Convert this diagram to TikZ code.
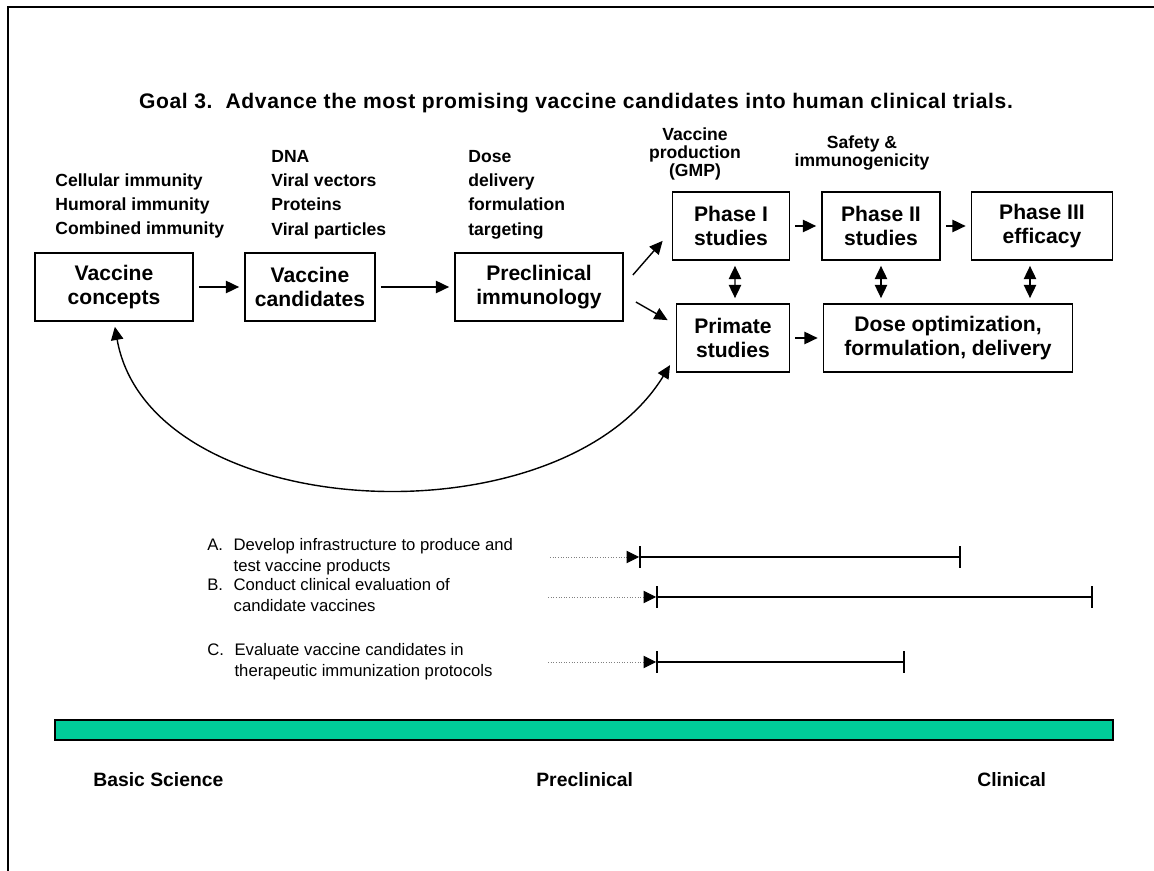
\documentclass[tikz,border=0pt]{standalone}
\usepackage{fontspec}
\setmainfont{Liberation Sans}
\newfontfamily\widesans[LetterSpace=3]{Liberation Sans}
\usepackage{tikz}
\usetikzlibrary{arrows.meta,positioning}
\definecolor{trackgreen}{HTML}{00CC99}

\begin{document}
\begin{tikzpicture}[x=0.02cm,y=-0.02cm,>={Triangle[length=7.5pt,width=7pt]},
  stage/.style={draw,line width=1pt,align=center,inner sep=0pt,minimum height=1.36cm,font=\fontsize{12}{13.6}\selectfont\bfseries},
  note/.style={align=left,anchor=north west,inner sep=0pt,font=\fontsize{10}{13.8}\selectfont\bfseries},
  head/.style={align=center,anchor=north,inner sep=0pt,font=\fontsize{10}{10.3}\selectfont\bfseries},
  link/.style={->,line width=0.8pt,shorten <=0.1cm,shorten >=0.1cm},
  both/.style={<->,line width=0.8pt,shorten <=0.1cm,shorten >=0.1cm},
  lead/.style={-{Triangle[length=7pt,width=7pt,black]},gray,densely dotted,line width=0.5pt},
  span/.style={{Bar[width=12pt]}-{Bar[width=12pt]},line width=1.1pt},
  aim/.style={anchor=west,inner sep=0pt,font=\fontsize{9.5}{11.5}\selectfont},
  phase/.style={anchor=west,inner sep=0pt,font=\fontsize{11}{13}\selectfont\bfseries}]

  \useasboundingbox (0,0) rectangle (1154,871);
  \draw[line width=1.1pt] (1154,7) -- (8,7) -- (8,871);

  \node[font=\widesans\fontsize{12}{13}\selectfont\bfseries] at (576,103) (title) {Goal 3.\ \ Advance the most promising vaccine candidates into human clinical trials.};

  \node[note] at (55,173) (immunity) {Cellular immunity\\Humoral immunity\\Combined immunity};
  \node[note] at (271,150) (platforms) {DNA\\Viral vectors\\Proteins\\Viral particles};
  \node[note] at (468,150) (methods) {Dose\\delivery\\formulation\\targeting};
  \node[head] at (695,127) (production) {Vaccine\\production\\(GMP)};
  \node[head] at (862,135) (safety) {Safety \&\\immunogenicity};

  \node[stage,minimum width=3.16cm] at (114,287) (concepts) {Vaccine\\concepts};
  \node[stage,minimum width=2.6cm] at (310,287) (candidates) {Vaccine\\candidates};
  \node[stage,minimum width=3.36cm] at (539,287) (preclin) {Preclinical\\immunology};
  \node[stage,minimum width=2.34cm] at (731,226) (ph1) {Phase I\\studies};
  \node[stage,minimum width=2.36cm] at (881,226) (ph2) {Phase II\\studies};
  \node[stage,minimum width=2.82cm] at (1042,226) (ph3) {Phase III\\efficacy};
  \node[stage,minimum width=2.26cm] at (733,338) (prim) {Primate\\studies};
  \node[stage,minimum width=4.98cm] at (948,338) (dose) {Dose optimization,\\formulation, delivery};

  \draw[link] (concepts) -- (candidates);
  \draw[link] (candidates) -- (preclin);
  \draw[->,line width=0.8pt] ([shift={(9,-12)}]preclin.east) -- ([shift={(-9,-20)}]ph1.south west);
  \draw[->,line width=0.8pt] ([shift={(12,15)}]preclin.east) -- ([shift={(-8,17)}]prim.north west);
  \draw[link] (ph1) -- (ph2);
  \draw[link] (ph2) -- (ph3);
  \draw[link] (prim) -- (dose);
  \draw[both] ([xshift=0.08cm]ph1.south) -- ([xshift=0.04cm]prim.north);
  \draw[both] (ph2.south) -- (ph2.south |- dose.north);
  \draw[both] ([xshift=-0.24cm]ph3.south) -- ([xshift=-0.24cm]ph3.south |- dose.north);
  \draw[both] (concepts.south) .. controls (150,525) and (560,545) .. ([shift={(-3,-12)}]prim.south west);

  \node[aim] at (207,557) (aimA) {\begin{tabular}{@{}l@{\hspace{6pt}}l@{}}A. & Develop infrastructure to produce and\\ & test vaccine products\end{tabular}};
  \node[aim] at (207,597) (aimB) {\begin{tabular}{@{}l@{\hspace{6pt}}l@{}}B. & Conduct clinical evaluation of\\ & candidate vaccines\end{tabular}};
  \node[aim] at (207,662) (aimC) {\begin{tabular}{@{}l@{\hspace{6pt}}l@{}}C. & Evaluate vaccine candidates in\\ & therapeutic immunization protocols\end{tabular}};

  \coordinate (a0) at (550,557);
  \coordinate (a1) at (639,557);
  \coordinate (a2) at (961,557);
  \coordinate (b0) at (548,597);
  \coordinate (b1) at (656,597);
  \coordinate (b2) at (1093,597);
  \coordinate (c0) at (548,662);
  \coordinate (c1) at (656,662);
  \coordinate (c2) at (905,662);
  \draw[lead] (a0) -- (a1);
  \draw[span] (a1) -- (a2);
  \draw[lead] (b0) -- (b1);
  \draw[span] (b1) -- (b2);
  \draw[lead] (c0) -- (c1);
  \draw[span] (c1) -- (c2);

  \draw[fill=trackgreen,line width=0.6pt] (55,720) rectangle (1113,740);
  \node[phase] at (93,780) (basic) {Basic Science};
  \node[phase] at (536,780) (precl) {Preclinical};
  \node[phase] at (977,780) (clin) {Clinical};
\end{tikzpicture}
\end{document}
